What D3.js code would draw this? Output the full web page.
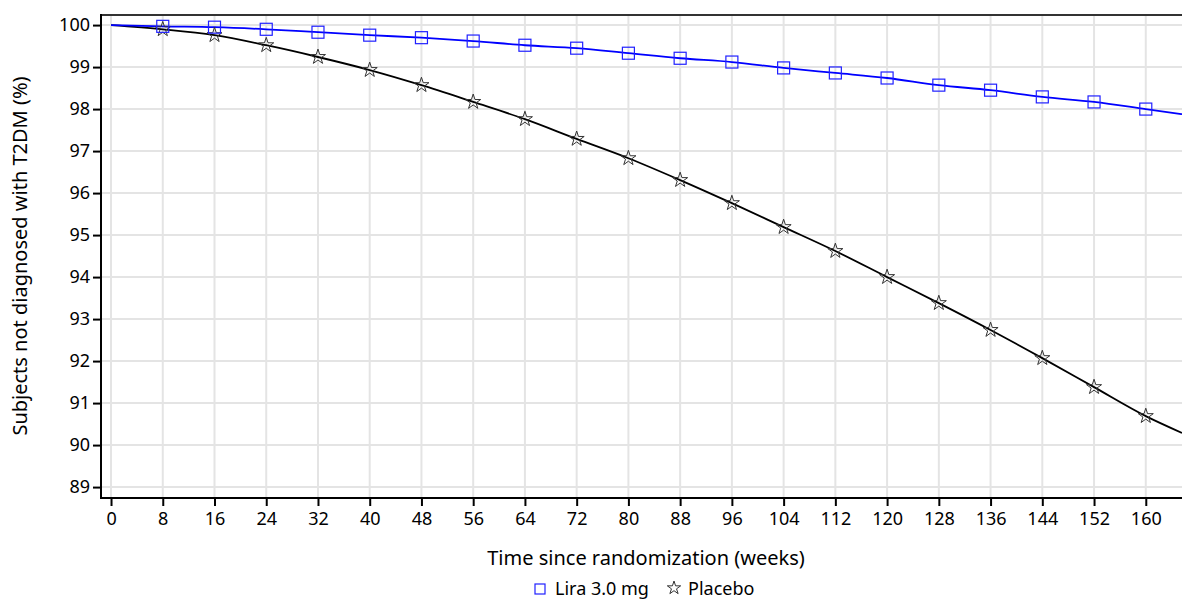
<!DOCTYPE html>
<html><head><meta charset="utf-8">
<script src="https://cdn.jsdelivr.net/npm/d3@7"></script>
<style>body{margin:0;background:#fff}text{font-family:"Noto Sans",sans-serif;fill:#000}</style>
</head><body><svg id="c" width="1182" height="600"></svg>
<script>
const weeks = [0,8,16,24,32,40,48,56,64,72,80,88,96,104,112,120,128,136,144,152,160,165.6];
const lira = [100,99.97,99.95,99.9,99.83,99.76,99.7,99.62,99.52,99.45,99.33,99.21,99.12,98.98,98.86,98.74,98.57,98.45,98.29,98.17,98.0,97.88];
const placebo = [100,99.9,99.76,99.52,99.24,98.93,98.57,98.17,97.76,97.29,96.83,96.31,95.76,95.19,94.62,94.0,93.38,92.74,92.07,91.38,90.69,90.29];
const markerWeeks = [8,16,24,32,40,48,56,64,72,80,88,96,104,112,120,128,136,144,152,160];
const xTicks = [0,8,16,24,32,40,48,56,64,72,80,88,96,104,112,120,128,136,144,152,160];
const yTicks = [89,90,91,92,93,94,95,96,97,98,99,100];
const seriesNames = ["Lira 3.0 mg","Placebo"];

const svg = d3.select("#c");
const L=101, T=15, R=1182, B=498;
const x = d3.scaleLinear().domain([-1.55,165.6]).range([L,R]);
const y = d3.scaleLinear().domain([88.74,100.24]).range([B,T]);

// grid
svg.append("g").selectAll("line").data(xTicks).join("line")
  .attr("x1",d=>x(d)).attr("x2",d=>x(d)).attr("y1",T).attr("y2",B)
  .attr("stroke","#e4e4e4").attr("stroke-width",2);
svg.append("g").selectAll("line").data(yTicks).join("line")
  .attr("x1",L).attr("x2",R).attr("y1",d=>y(d)).attr("y2",d=>y(d))
  .attr("stroke","#e4e4e4").attr("stroke-width",2);

// axes
const xa = svg.append("g").attr("transform",`translate(0,${B})`)
  .call(d3.axisBottom(x).tickValues(xTicks).tickSize(8).tickPadding(6).tickFormat(d3.format("d")));
const ya = svg.append("g").attr("transform",`translate(${L},0)`)
  .call(d3.axisLeft(y).tickValues(yTicks).tickSize(8).tickPadding(3).tickFormat(d3.format("d")));
[xa,ya].forEach(a=>{a.select(".domain").remove();
  a.selectAll(".tick line").attr("stroke","#000").attr("stroke-width",2);
  a.selectAll("text").style("font-size","18px").style("font-family",'"Noto Sans",sans-serif');});

// frame
svg.append("line").attr("x1",L).attr("x2",R).attr("y1",T).attr("y2",T).attr("stroke","#333").attr("stroke-width",2);
svg.append("line").attr("x1",L).attr("x2",L).attr("y1",T-1).attr("y2",B+1).attr("stroke","#000").attr("stroke-width",2);
svg.append("line").attr("x1",L).attr("x2",R).attr("y1",B).attr("y2",B).attr("stroke","#000").attr("stroke-width",2);

// lines
const line = d3.line().x(d=>x(d[0])).y(d=>y(d[1])).curve(d3.curveMonotoneX);
const liraPts = weeks.map((w,i)=>[w,lira[i]]);
const plPts = weeks.map((w,i)=>[w,placebo[i]]);
svg.append("path").datum(plPts).attr("d",line).attr("fill","none").attr("stroke","#000").attr("stroke-width",1.8);
svg.append("path").datum(liraPts).attr("d",line).attr("fill","none").attr("stroke","#0000ff").attr("stroke-width",1.8);

const star = d3.symbol().type(d3.symbolStar).size(70);
const sq = 12;
svg.append("g").selectAll("path").data(plPts.filter(p=>markerWeeks.includes(p[0]))).join("path")
  .attr("d",star).attr("transform",d=>`translate(${x(d[0])},${y(d[1])})`)
  .attr("fill","none").attr("stroke","#333").attr("stroke-width",1);
svg.append("g").selectAll("rect").data(liraPts.filter(p=>markerWeeks.includes(p[0]))).join("rect")
  .attr("x",d=>x(d[0])-sq/2).attr("y",d=>y(d[1])-sq/2).attr("width",sq).attr("height",sq)
  .attr("fill","none").attr("stroke","#2020ff").attr("stroke-width",1.2);

// titles
svg.append("text").attr("x",646).attr("y",565).attr("text-anchor","middle").style("font-size","20px")
  .text("Time since randomization (weeks)");
svg.append("text").attr("transform","translate(27,256) rotate(-90)").attr("text-anchor","middle").style("font-size","20px")
  .text("Subjects not diagnosed with T2DM (%)");

// legend
svg.append("rect").attr("x",535).attr("y",584).attr("width",10).attr("height",10).attr("fill","none").attr("stroke","#2020ff").attr("stroke-width",1.2);
svg.append("text").attr("x",555).attr("y",595).style("font-size","18px").text(seriesNames[0]);
svg.append("path").attr("d",d3.symbol().type(d3.symbolStar).size(55)).attr("transform","translate(674,588)")
  .attr("fill","none").attr("stroke","#333").attr("stroke-width",1);
svg.append("text").attr("x",688).attr("y",595).style("font-size","18px").text(seriesNames[1]);
</script></body></html>
